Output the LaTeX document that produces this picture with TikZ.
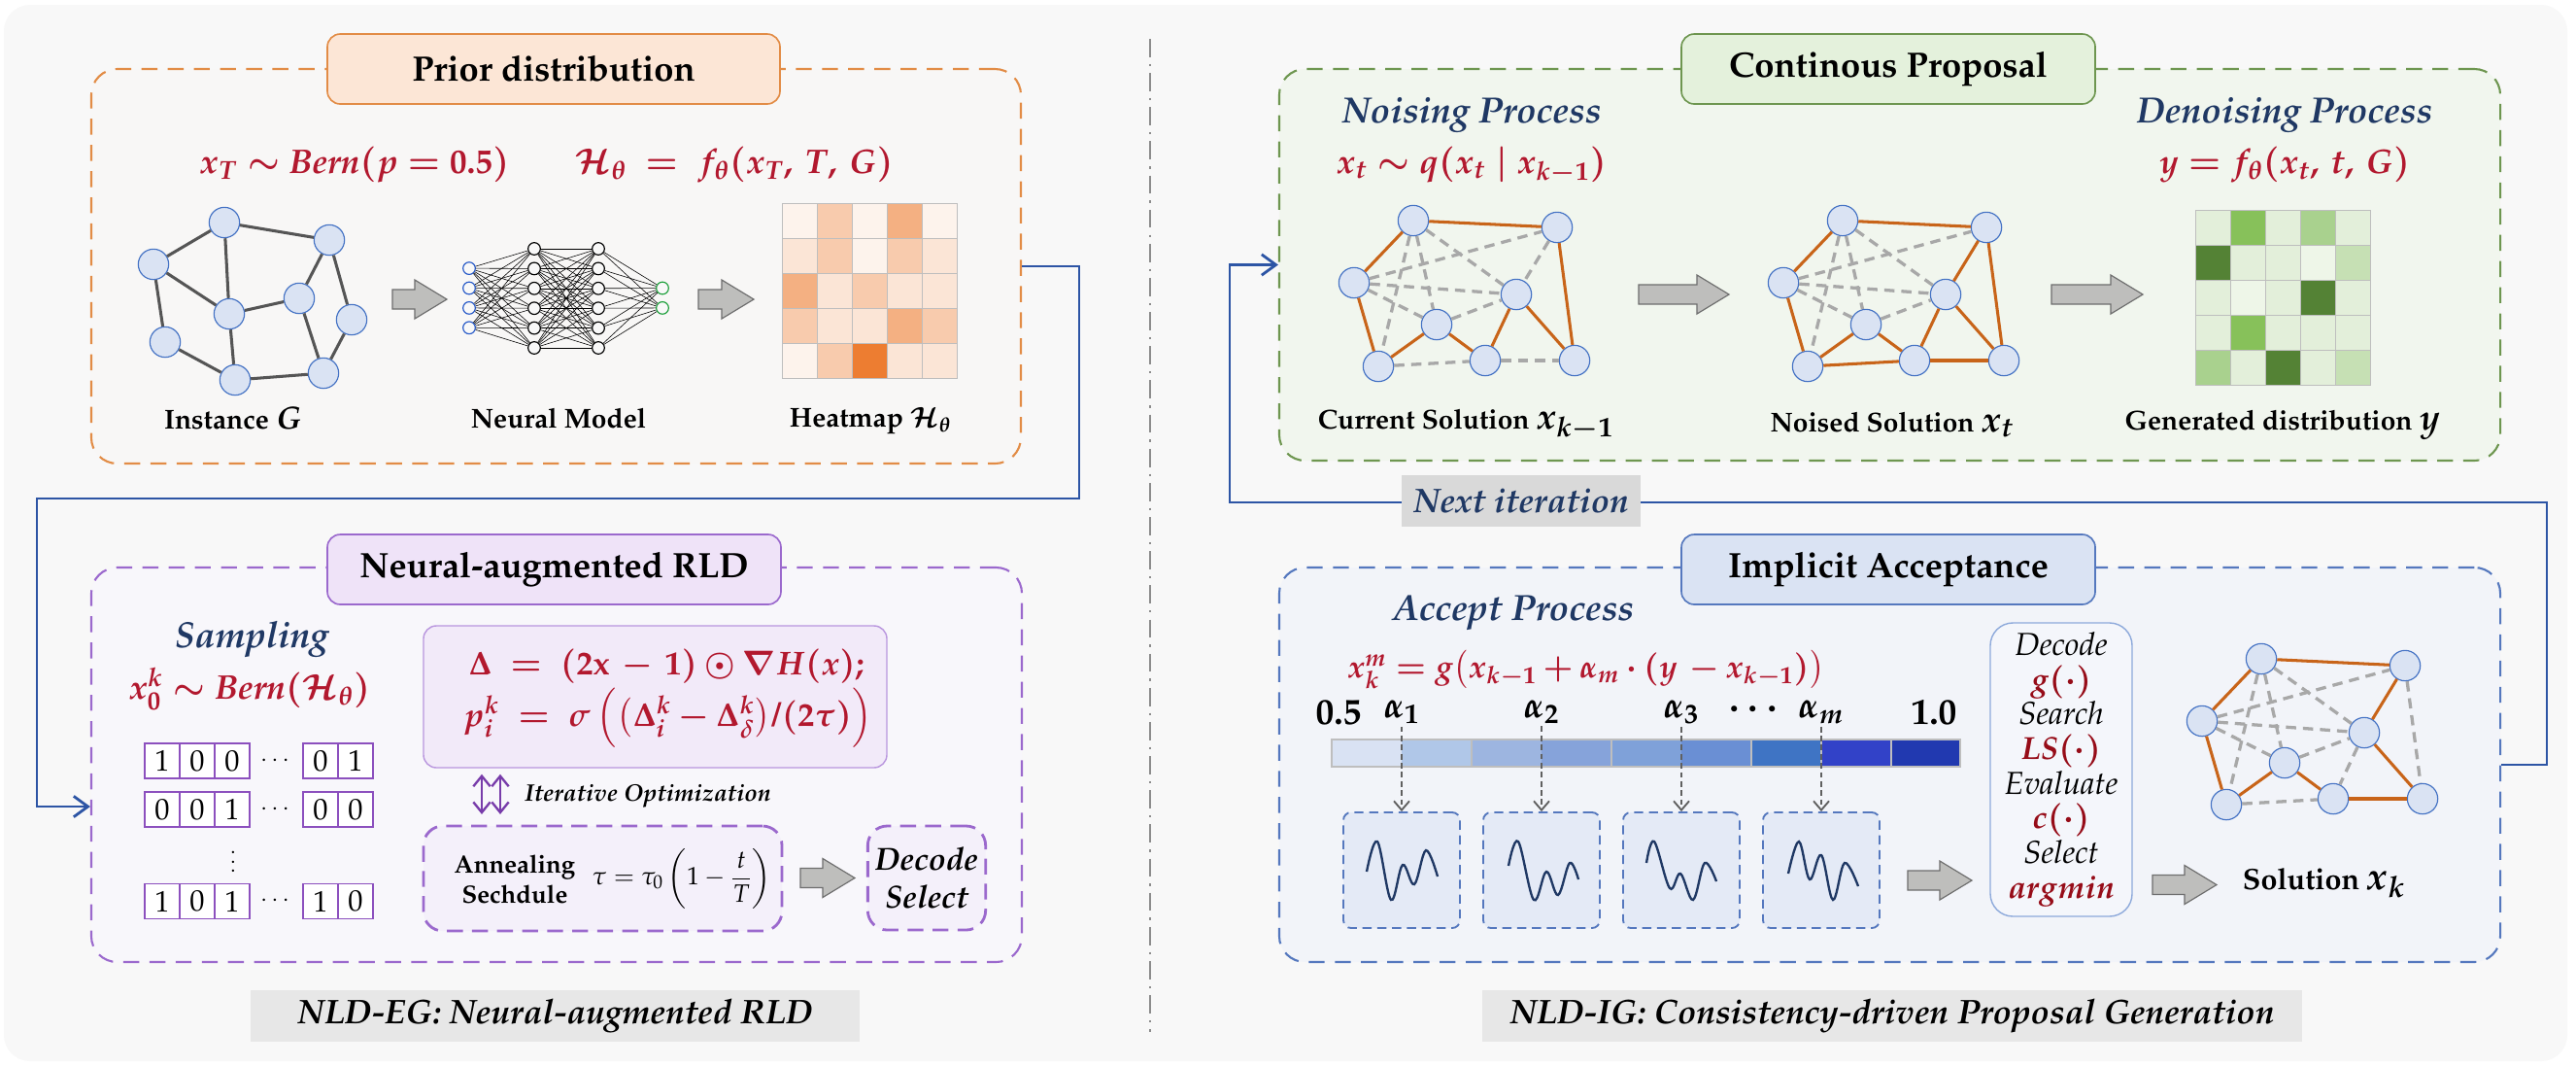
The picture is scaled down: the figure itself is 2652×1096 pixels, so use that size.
\documentclass[tikz,border=0pt]{standalone}
\usepackage[T1]{fontenc}
\usepackage{mathpazo}
\usepackage{amsmath, amssymb}
\usepackage{bm}
\usepackage{xcolor}
\usepackage{tikz}
\usetikzlibrary{arrows.meta, positioning, calc}
\definecolor{panelbg}{RGB}{248,248,248}
\definecolor{sepgray}{RGB}{140,140,140}
\definecolor{fred}{RGB}{178,24,46}
\definecolor{dred}{RGB}{150,12,24}
\definecolor{navy}{RGB}{31,56,100}
\definecolor{orangeline}{RGB}{226,140,70}
\definecolor{orangetitle}{RGB}{252,230,214}
\definecolor{orangebg}{RGB}{248,247,246}
\definecolor{purpleline}{RGB}{155,105,205}
\definecolor{purpletitle}{RGB}{239,227,248}
\definecolor{purplebg}{RGB}{248,247,251}
\definecolor{optfill}{RGB}{242,234,249}
\definecolor{optline}{RGB}{185,150,222}
\definecolor{annfill}{RGB}{244,240,250}
\definecolor{bitpurple}{RGB}{140,80,190}
\definecolor{arrpurple}{RGB}{120,60,170}
\definecolor{greenline}{RGB}{110,150,80}
\definecolor{greentitle}{RGB}{228,241,220}
\definecolor{greenbg}{RGB}{241,246,238}
\definecolor{blueline}{RGB}{85,120,190}
\definecolor{bluetitle}{RGB}{218,227,243}
\definecolor{bluebg}{RGB}{242,244,249}
\definecolor{wavefill}{RGB}{228,234,246}
\definecolor{decline}{RGB}{142,170,219}
\definecolor{decfill}{RGB}{244,246,251}
\definecolor{nodefill}{RGB}{218,227,243}
\definecolor{nodeline}{RGB}{68,114,196}
\definecolor{edgegray}{RGB}{85,85,85}
\definecolor{tourorange}{RGB}{200,100,25}
\definecolor{candgray}{RGB}{168,168,168}
\definecolor{loopblue}{RGB}{45,85,165}
\definecolor{arrgray}{RGB}{190,190,188}
\definecolor{arrline}{RGB}{110,110,110}
\definecolor{capgray}{RGB}{231,231,231}
\definecolor{nextgray}{RGB}{217,217,217}
\definecolor{cellgray}{RGB}{190,190,190}
\definecolor{nninblue}{RGB}{40,90,200}
\definecolor{nngreen}{RGB}{30,160,60}
\definecolor{o0}{RGB}{253,243,236}
\definecolor{o1}{RGB}{251,229,214}
\definecolor{o2}{RGB}{248,203,173}
\definecolor{o3}{RGB}{244,176,130}
\definecolor{o4}{RGB}{237,125,49}
\definecolor{g0}{RGB}{238,246,232}
\definecolor{g1}{RGB}{227,239,218}
\definecolor{g2}{RGB}{198,224,180}
\definecolor{g3}{RGB}{169,209,142}
\definecolor{g4}{RGB}{135,193,90}
\definecolor{g5}{RGB}{84,130,53}
\definecolor{bar1}{RGB}{217,226,243}
\definecolor{bar2}{RGB}{176,199,232}
\definecolor{bar3}{RGB}{157,181,224}
\definecolor{bar4}{RGB}{134,163,218}
\definecolor{bar5}{RGB}{127,161,217}
\definecolor{bar6}{RGB}{106,143,212}
\definecolor{bar7}{RGB}{63,116,196}
\definecolor{bar8}{RGB}{50,66,200}
\definecolor{bar9}{RGB}{33,57,176}

\begin{document}
\begin{tikzpicture}[x=0.015cm, y=-0.015cm,
    stagebox/.style={draw, dash pattern=on 7pt off 4.5pt, line width=0.9pt, rounded corners=0.4cm},
    stagetitle/.style={draw, line width=0.7pt, rounded corners=0.2cm, minimum height=1.08cm,
      font=\fontsize{15.5}{18}\selectfont\bfseries},
    gnode/.style={circle, minimum size=0.47cm, inner sep=0pt, fill=nodefill, draw=nodeline, line width=0.5pt},
    gedge/.style={line width=1.3pt, draw=edgegray},
    tour/.style={line width=1.3pt, draw=tourorange},
    cand/.style={line width=1.4pt, draw=candgray, dash pattern=on 4.5pt off 3pt},
    nnode/.style={circle, minimum size=0.19cm, inner sep=0pt, draw=black, line width=0.5pt, fill=panelbg},
    nnedge/.style={draw=black, line width=0.25pt},
    lbl/.style={font=\fontsize{12}{14}\selectfont\bfseries},
    phead/.style={font=\fontsize{16}{19}\selectfont\bfseries\itshape, text=navy},
    frm/.style={font=\fontsize{15}{18}\selectfont\boldmath, text=fred, inner sep=1pt},
    barlab/.style={font=\fontsize{16}{18}\selectfont\boldmath, inner sep=1pt},
    capbox/.style={fill=capgray, minimum height=0.795cm, font=\fontsize{15}{18}\selectfont\bfseries\itshape},
    bitcell/.style={draw=bitpurple, line width=0.8pt, fill=white, minimum size=0.54cm, inner sep=0pt,
      font=\fontsize{13}{15}\selectfont},
    loopline/.style={draw=loopblue, line width=1.2pt, -{Straight Barb[length=2.2mm, width=3.2mm]}},
    iterarr/.style={draw=arrpurple, line width=1pt,
      {Straight Barb[length=1.6mm, width=2.6mm]}-{Straight Barb[length=1.6mm, width=2.6mm]},
      shorten <=0.09cm, shorten >=0.16cm},
    alphaarr/.style={draw=gray!75!black, line width=0.8pt, dash pattern=on 2.5pt off 1.5pt,
      -{Straight Barb[length=1.4mm, width=2.4mm]}},
    wavebox/.style={draw=blueline, dash pattern=on 4pt off 2.5pt, line width=0.8pt, rounded corners=0.12cm,
      fill=wavefill, minimum width=1.8cm, minimum height=1.785cm},
    wavec/.style={draw=navy, line width=1pt},
    pics/blockarr/.style={code={
      \draw[fill=arrgray, draw=arrline, line width=0.5pt]
        (0,-10) -- ({#1-33},-10) -- ({#1-33},-20) -- (#1,0) -- ({#1-33},20) -- ({#1-33},10) -- (0,10) -- cycle;}},
  ]
  \useasboundingbox (0,0) rectangle (2652,1096);

  % Panel background and separator
  \fill[panelbg, rounded corners=0.4cm] (4,5) rectangle (2643,1092);
  \draw[sepgray, line width=0.8pt, dash pattern=on 8pt off 3pt on 1pt off 3pt] (1184,40) -- (1184,1062);

  % ---------------- Prior distribution ----------------
  \node[stagebox, draw=orangeline, fill=orangebg, minimum width=14.355cm, minimum height=6.09cm] (priorbox) at (572.5,274) {};
  \node[stagetitle, draw=orangeline, fill=orangetitle, minimum width=6.99cm] (priortitle) at (570,71) {Prior distribution};
  \node[frm] (priorf) at (365,170) {$x_T \sim \mathit{Bern}(p = 0.5)$};
  \node[frm] (heatf) at (756,170) {$\mathcal{H}_\theta \;=\; f_\theta(x_T,\, T,\, G)$};

  % Instance graph
  \foreach \n/\x/\y in {1/231/229, 2/339/247, 3/158/272, 4/308/307, 5/236/323, 6/362/329, 7/170/352, 8/242/391, 9/333/384}
    \node[gnode] (ig\n) at (\x,\y) {};
  \foreach \a/\b in {1/2, 1/3, 1/5, 3/5, 3/7, 7/8, 8/9, 5/8, 5/4, 4/2, 4/9, 2/6, 6/9}
    \draw[gedge] (ig\a) -- (ig\b);
  \node[lbl] (iglab) at (240,430) {Instance {\fontsize{14}{16}\selectfont$\bm{G}$}};

  \pic at (404,308) {blockarr=56};

  % Neural model
  \foreach \i in {1,...,4}
    \node[nnode, draw=nninblue] (in\i) at (483,{306.7+(\i-2.5)*20.4}) {};
  \foreach \i in {1,...,6} {
    \node[nnode] (ha\i) at (550,{307+(\i-3.5)*20.4}) {};
    \node[nnode] (hb\i) at (616,{307+(\i-3.5)*20.4}) {};
  }
  \foreach \i in {1,2}
    \node[nnode, draw=nngreen] (out\i) at (682,{306.7+(\i-1.5)*20.4}) {};
  \foreach \i in {1,...,4} \foreach \j in {1,...,6} \draw[nnedge] (in\i) -- (ha\j);
  \foreach \i in {1,...,6} \foreach \j in {1,...,6} \draw[nnedge] (ha\i) -- (hb\j);
  \foreach \i in {1,...,6} \foreach \j in {1,2} \draw[nnedge] (hb\i) -- (out\j);
  \node[lbl] (nnlab) at (575,430) {Neural Model};

  \pic at (719,308) {blockarr=57};

  % Heatmap
  \foreach \hrow [count=\hr] in {{o0,o2,o0,o3,o0},{o1,o2,o0,o2,o1},{o3,o1,o2,o1,o1},{o2,o1,o1,o3,o2},{o0,o2,o4,o1,o1}}
    \foreach \hc [count=\hk] in \hrow
      \filldraw[fill=\hc, draw=cellgray, line width=0.4pt] ({805+(\hk-1)*36},{209+(\hr-1)*36}) rectangle ++(36,36);
  \node[lbl] (heatlab) at (896,433) {Heatmap $\bm{\mathcal{H}_\theta}$};

  % ---------------- Neural-augmented RLD ----------------
  \node[stagebox, draw=purpleline, fill=purplebg, minimum width=14.37cm, minimum height=6.09cm] (rldbox) at (573,787) {};
  \node[stagetitle, draw=purpleline, fill=purpletitle, minimum width=7.005cm] (rldtitle) at (570.5,586) {Neural-augmented RLD};
  \node[phead] (samphead) at (259,658) {Sampling};
  \node[frm] (sampf) at (257,709) {$x_0^k \sim \mathit{Bern}(\mathcal{H}_\theta)$};

  % Loop into the sampler
  \coordinate (turnA) at (1111,513);
  \coordinate (turnB) at (38,830);
  \draw[loopline] (priorbox.east) -| (turnA) -| (turnB) -- (rldbox.west |- turnB);

  % Sampled bit vectors
  \foreach \v/\x [count=\k] in {1/167, 0/203, 0/239, 0/330, 1/366} \node[bitcell] (ra\k) at (\x,783) {\v};
  \foreach \v/\x [count=\k] in {0/167, 0/203, 1/239, 0/330, 0/366} \node[bitcell] (rb\k) at (\x,833) {\v};
  \foreach \v/\x [count=\k] in {1/167, 0/203, 1/239, 1/330, 0/366} \node[bitcell] (rc\k) at (\x,927.5) {\v};
  \node[inner sep=0pt] (dotsa) at (285,783) {$\cdots$};
  \node[inner sep=0pt] (dotsb) at (285,833) {$\cdots$};
  \node[inner sep=0pt] (dotsc) at (285,927.5) {$\cdots$};
  \node[inner sep=0pt, font=\fontsize{9}{10}\selectfont] (vdots) at (240,880) {$\vdots$};

  % Update rule
  \node[draw=optline, fill=optfill, line width=0.6pt, rounded corners=0.2cm, minimum width=7.155cm, minimum height=2.19cm] (optbox) at (674.5,717) {};
  \node[frm, font=\fontsize{14.5}{17}\selectfont\boldmath, anchor=west] (deltaf) at (480,686)
    {$\Delta \;=\; (2\mathbf{x} \,-\, 1) \odot \nabla H(x);$};
  \node[frm, font=\fontsize{14.5}{17}\selectfont\boldmath, anchor=west] (probf) at (474,739)
    {$p_i^k \;=\; \sigma\,\Bigl(\bigl(\Delta_i^k -\Delta_\delta^k\bigr)/(2\tau)\Bigr)$};

  % Annealing schedule
  \node[draw=purpleline, fill=annfill, line width=1.2pt, dash pattern=on 7pt off 4pt, rounded corners=0.3cm,
    minimum width=5.535cm, minimum height=1.62cm] (anneal) at (620.5,904) {};
  \node[font=\fontsize{11}{13}\selectfont\bfseries, align=center, inner sep=1pt] (annlab) at (530,905) {Annealing\\Sechdule};
  \node[font=\fontsize{11}{13}\selectfont, inner sep=1pt] (annf) at (702,904) {$\tau = \tau_0\left(1-\dfrac{t}{T}\right)$};

  \coordinate (itx1) at (496,0);
  \coordinate (itx2) at (515,0);
  \draw[iterarr] (optbox.south -| itx1) -- (anneal.north -| itx1);
  \draw[iterarr] (optbox.south -| itx2) -- (anneal.north -| itx2);
  \node[font=\fontsize{10.5}{12}\selectfont\bfseries\itshape, anchor=west] (iterlab) at (532,819) {Iterative Optimization};

  \pic at (824,903.5) {blockarr=56};
  \node[draw=purpleline, fill=annfill, line width=1.2pt, dash pattern=on 7pt off 4pt, rounded corners=0.3cm,
    minimum width=1.8cm, minimum height=1.605cm, align=center,
    font=\fontsize{14}{17}\selectfont\bfseries\itshape] (decsel) at (954,903.5) {Decode\\Select};

  \node[capbox, minimum width=9.405cm] (egcap) at (571.5,1045.5) {NLD-EG: Neural-augmented RLD};

  % ---------------- Continous Proposal ----------------
  \node[stagebox, draw=greenline, fill=greenbg, minimum width=18.855cm, minimum height=6.045cm] (propbox) at (1945.5,272.5) {};
  \node[stagetitle, draw=greenline, fill=greentitle, minimum width=6.39cm] (proptitle) at (1944,71) {Continous Proposal};
  \node[phead] (noisehead) at (1515,118) {Noising Process};
  \node[frm] (noisef) at (1515,170) {$x_t \sim q(x_t \mid x_{k-1})$};
  \node[phead] (denhead) at (2352,118) {Denoising Process};
  \node[frm] (denf) at (2352,170) {$y = f_\theta(x_t,\, t,\, G)$};

  % Current and noised solutions (same instance)
  \foreach \n/\x/\y in {a/0/0, b/148/7, c/-61/64, d/106/76, e/24/107, f/-36/150, g/74/144, h/166/144} {
    \node[gnode] (cur\n) at ({1455+\x},{227+\y}) {};
    \node[gnode] (noi\n) at ({1897+\x},{227+\y}) {};
  }
  \foreach \a/\b in {c/b, a/d, c/d, c/e, e/d, a/f, a/e, f/g, g/h, b/d} \draw[cand] (cur\a) -- (cur\b);
  \foreach \a/\b in {a/b, a/c, b/h, c/f, f/e, e/g, g/d, d/h} \draw[tour] (cur\a) -- (cur\b);
  \foreach \a/\b in {c/b, a/d, c/d, c/e, e/d, a/f, a/e} \draw[cand] (noi\a) -- (noi\b);
  \foreach \a/\b in {a/b, a/c, c/f, f/e, f/g, b/d, b/h, e/g, g/d, d/h, g/h} \draw[tour] (noi\a) -- (noi\b);

  \pic at (1687,303) {blockarr=93};
  \pic at (2112,303) {blockarr=94};

  % Generated heatmap
  \foreach \hrow [count=\hr] in {{g1,g4,g1,g3,g1},{g5,g1,g1,g0,g2},{g1,g0,g1,g5,g1},{g1,g4,g1,g1,g1},{g3,g1,g5,g1,g2}}
    \foreach \hc [count=\hk] in \hrow
      \filldraw[fill=\hc, draw=cellgray, line width=0.4pt] ({2260+(\hk-1)*36},{216+(\hr-1)*36}) rectangle ++(36,36);

  \node[lbl] (curlab) at (1509,437) {Current Solution {\fontsize{16}{18}\selectfont$\bm{x_{k-1}}$}};
  \node[lbl] (noilab) at (1948,437) {Noised Solution {\fontsize{16}{18}\selectfont$\bm{x_t}$}};
  \node[lbl] (genlab) at (2350,437) {Generated distribution {\fontsize{16}{18}\selectfont$\bm{y}$}};

  % ---------------- Implicit Acceptance ----------------
  \node[stagebox, draw=blueline, fill=bluebg, minimum width=18.855cm, minimum height=6.09cm] (accbox) at (1945.5,787) {};
  \node[stagetitle, draw=blueline, fill=bluetitle, minimum width=6.39cm] (acctitle) at (1944,586) {Implicit Acceptance};
  \node[phead] (acchead) at (1558,631) {Accept Process};
  \node[frm, font=\fontsize{14}{16}\selectfont\boldmath] (accf) at (1633,689) {$x_k^m = g\bigl(x_{k-1} + \alpha_m \cdot (y\, - x_{k-1})\bigr)$};

  % Loop back to the proposal
  \coordinate (turnC) at (2622,517);
  \coordinate (turnD) at (1266,272.5);
  \draw[loopline] (accbox.east) -| (turnC) -| (turnD) -- (propbox.west);
  \node[fill=nextgray, minimum width=3.69cm, minimum height=0.795cm, text=navy,
    font=\fontsize{15}{18}\selectfont\bfseries\itshape] (nextit) at (1566,515) {Next iteration};

  % Step-size bar
  \foreach \i in {1,...,9}
    \fill[bar\i] ({1371+(\i-1)*71.9},761) rectangle ++(71.9,28);
  \foreach \xa/\xb in {1371/1515, 1515/1659, 1659/1803, 1803/1875, 1875/1947, 1947/2018}
    \draw[cellgray, line width=0.6pt] (\xa,761) rectangle (\xb,789);
  \node[barlab] (lo) at (1378,733) {$0.5$};
  \foreach \i/\x in {1/1443, 2/1587, 3/1731, m/1875}
    \node[barlab] (al\i) at (\x,733) {$\alpha_\i$};
  \node[barlab, inner sep=0pt] (aldots) at (1808,730) {$\cdots$};
  \node[barlab] (hi) at (1991,733) {$1.0$};

  % Candidate proposals
  \foreach \i/\x in {1/1443, 2/1587, 3/1731, 4/1875}
    \node[wavebox] (wave\i) at (\x,895.5) {};
  \foreach \i/\w in {1/1, 2/2, 3/3, m/4}
    \draw[alphaarr] (al\i.south) -- (al\i.south |- wave\w.north);
  \draw[wavec] plot[smooth, tension=0.6] coordinates {(1407,897) (1418,866) (1432,926) (1444,890) (1456,910) (1468,875) (1480,902)};
  \draw[wavec] plot[smooth, tension=0.6] coordinates {(1553,891) (1563,866) (1579,926) (1592,897) (1604,921) (1616,888) (1625,905)};
  \draw[wavec] plot[smooth, tension=0.6] coordinates {(1695,888) (1703,866) (1719,914) (1730,899) (1743,926) (1755,888) (1767,907)};
  \draw[wavec] plot[smooth, tension=0.6] coordinates {(1841,899) (1852,866) (1863,905) (1875,880) (1887,926) (1899,888) (1913,912)};

  \pic at (1964,906) {blockarr=66};
  \node[draw=decline, fill=decfill, line width=0.6pt, rounded corners=0.35cm, minimum width=2.19cm, minimum height=4.53cm,
    align=center, font=\fontsize{14}{15.2}\selectfont\itshape] (decbox) at (2122,792)
    {Decode\\ {\boldmath\color{dred}$g(\cdot)$}\\ Search\\ {\boldmath\color{dred}$\mathit{LS}(\cdot)$}\\
     Evaluate\\ {\boldmath\color{dred}$c(\cdot)$}\\ Select\\ {\boldmath\color{dred}$argmin$}};
  \pic at (2216,910.5) {blockarr=66};
  \node[font=\fontsize{13}{15}\selectfont\bfseries] (sollab) at (2393,909) {Solution {\fontsize{17}{19}\selectfont$\bm{x_k}$}};

  % Final solution graph
  \foreach \n/\x/\y in {a/0/0, b/148/7, c/-61/64, d/106/76, e/24/107, f/-36/150, g/74/144, h/166/144}
    \node[gnode] (sol\n) at ({2328+\x},{678+\y}) {};
  \foreach \a/\b in {c/b, a/d, c/d, c/e, e/d, a/f, a/e, f/g, d/g, b/h} \draw[cand] (sol\a) -- (sol\b);
  \foreach \a/\b in {a/b, a/c, c/f, f/e, e/g, g/h, b/d, d/h} \draw[tour] (sol\a) -- (sol\b);

  \node[capbox, minimum width=12.66cm] (igcap) at (1948,1045.5) {NLD-IG: Consistency-driven Proposal Generation};
\end{tikzpicture}
\end{document}
